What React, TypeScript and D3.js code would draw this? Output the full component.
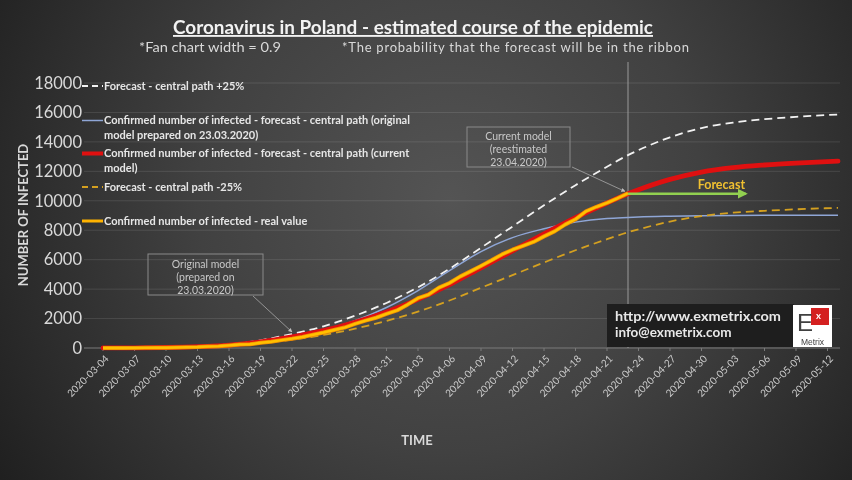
import React from "react";
import * as d3 from "d3";

const W = 852;
const H = 480;

// Real confirmed cases (daily, starting 2020-03-04)
const actualStart = "2020-03-04";
const actualValues = [
  1, 1, 5, 6, 11, 17, 22, 31, 51, 68, 104, 125, 177, 238, 251, 355, 425, 536, 634, 749,
  901, 1051, 1221, 1389, 1638, 1862, 2055, 2311, 2554, 2946, 3383, 3627, 4102, 4413, 4848,
  5205, 5575, 5955, 6356, 6674, 6934, 7202, 7582, 7918, 8379, 8742, 9287, 9593, 9856,
  10169, 10511,
];

// Model paths
const modelDates = [
  "2020-03-04", "2020-03-07", "2020-03-10", "2020-03-13", "2020-03-16", "2020-03-19",
  "2020-03-22", "2020-03-25", "2020-03-28", "2020-03-31", "2020-04-03", "2020-04-06",
  "2020-04-09", "2020-04-12", "2020-04-15", "2020-04-18", "2020-04-21", "2020-04-23",
  "2020-04-24", "2020-04-27", "2020-04-30", "2020-05-03", "2020-05-06", "2020-05-09",
  "2020-05-13",
];
const modelCurrent = [
  3, 12, 35, 90, 200, 420, 760, 1180, 1750, 2450, 3300, 4300, 5450, 6600, 7750, 8850,
  9850, 10480, 10750, 11450, 11950, 12250, 12430, 12560, 12690,
];
const modelPlus25 = [
  4, 15, 44, 113, 250, 525, 950, 1475, 2190, 3060, 4125, 5375, 6810, 8250, 9690, 11060,
  12310, 13100, 13440, 14310, 14940, 15310, 15540, 15700, 15860,
];
const modelMinus25 = [
  2, 9, 26, 68, 150, 315, 570, 885, 1310, 1840, 2475, 3225, 4090, 4950, 5810, 6640, 7390,
  7860, 8060, 8590, 8960, 9190, 9320, 9420, 9520,
];
const modelOriginal = [
  0, 5, 15, 50, 150, 350, 700, 1200, 1850, 2750, 3900, 5250, 6550, 7500, 8100, 8550, 8800,
  8870, 8900, 8950, 8980, 9000, 9010, 9015, 9020,
];

const yTicks = [0, 2000, 4000, 6000, 8000, 10000, 12000, 14000, 16000, 18000];
const xTickLabels = [
  "2020-03-04", "2020-03-07", "2020-03-10", "2020-03-13", "2020-03-16", "2020-03-19",
  "2020-03-22", "2020-03-25", "2020-03-28", "2020-03-31", "2020-04-03", "2020-04-06",
  "2020-04-09", "2020-04-12", "2020-04-15", "2020-04-18", "2020-04-21", "2020-04-24",
  "2020-04-27", "2020-04-30", "2020-05-03", "2020-05-06", "2020-05-09", "2020-05-12",
];
const domainStart = "2020-03-04";
const domainEnd = "2020-05-13";
const reestimateDate = "2020-04-23";
const forecastArrowEnd = "2020-05-04T12:00";
const forecastLevel = 10480;
const originalModelPoint = { date: "2020-03-22", value: 950 };
const currentModelPoint = { date: "2020-04-23", value: 10500 };

const legendLines = [
  ["Forecast - central path +25%"],
  ["Confirmed number of infected - forecast - central path (original", "model prepared on 23.03.2020)"],
  ["Confirmed number of infected - forecast - central path (current", "model)"],
  ["Forecast - central path  -25%"],
  ["Confirmed number of infected - real value"],
];

const FONT = "Lato, 'Open Sans', sans-serif";

export default function App() {
  const pd = d3.utcParse("%Y-%m-%d");
  const pdt = d3.utcParse("%Y-%m-%dT%H:%M");
  const x = d3.scaleUtc().domain([pd(domainStart)!, pd(domainEnd)!]).range([103, 838]);
  const y = d3.scaleLinear().domain([0, 18000]).range([348, 83]);

  const actualPts = actualValues.map((v, i) => [x(d3.utcDay.offset(pd(actualStart)!, i)), y(v)] as [number, number]);
  const mk = (vals: number[]) => vals.map((v, i) => [x(pd(modelDates[i])!), y(v)] as [number, number]);
  const smooth = d3.line().curve(d3.curveMonotoneX);
  const straight = d3.line();

  const xr = x(pd(reestimateDate)!);
  const fx2 = x(pdt(forecastArrowEnd)!);
  const fy = y(forecastLevel);

  const ox = x(pd(originalModelPoint.date)!);
  const oy = y(originalModelPoint.value);
  const cx = x(pd(currentModelPoint.date)!);
  const cy = y(currentModelPoint.value);

  const legendY = [86, 120.5, 153.5, 187, 221];
  const swatch = [
    { stroke: "#f2f2f2", w: 1.8, dash: "6,4" },
    { stroke: "#8fa6d6", w: 1.5, dash: null },
    { stroke: "#e01010", w: 4, dash: null },
    { stroke: "#d4a020", w: 1.8, dash: "6,4" },
    { stroke: "#ffb300", w: 3, dash: null },
  ];

  return (
    <svg width={W} height={H} style={{ position: "fixed", left: 0, top: 0 }} fontFamily={FONT}>
      <defs>
        <radialGradient id="bg" gradientUnits="userSpaceOnUse" cx={450} cy={200} r={560}>
          <stop offset="0" stopColor="#545454" />
          <stop offset="0.45" stopColor="#414141" />
          <stop offset="1" stopColor="#1c1c1c" />
        </radialGradient>
        <marker id="ah" viewBox="0 0 10 10" refX="9" refY="5" markerWidth="5" markerHeight="5" orient="auto">
          <path d="M0,0 L10,5 L0,10 z" fill="#bfbfbf" />
        </marker>
        <marker id="gh" viewBox="0 0 10 10" refX="8" refY="5" markerWidth="4" markerHeight="4" orient="auto">
          <path d="M0,0 L10,5 L0,10 z" fill="#92d050" />
        </marker>
      </defs>
      <rect x={0} y={0} width={W} height={H} fill="url(#bg)" />

      {/* Title */}
      <text x={413} y={34} textAnchor="middle" fill="#f2f2f2" fontSize={18.5} fontWeight="bold" textDecoration="underline" textLength={480} lengthAdjust="spacingAndGlyphs">
        Coronavirus in Poland - estimated course of the epidemic
      </text>
      <text x={139} y={52} fill="#d9d9d9" fontSize={13} textLength={142} lengthAdjust="spacingAndGlyphs">*Fan chart width = 0.9</text>
      <text x={342} y={52} fill="#d9d9d9" fontSize={13} textLength={347} lengthAdjust="spacing">*The probability that the forecast will be in the ribbon</text>

      {/* Grid */}
      {yTicks.map((t) => (
        <line key={t} x1={84} x2={840} y1={y(t)} y2={y(t)} stroke={t === 0 ? "#7a7a7a" : "rgba(255,255,255,0.11)"} strokeWidth={1} />
      ))}
      {yTicks.map((t) => (
        <text key={"l" + t} x={82} y={y(t)} dy="0.35em" textAnchor="end" fill="#d9d9d9" fontSize={16.5}>
          {t}
        </text>
      ))}
      {xTickLabels.map((d) => {
        const xx = x(pd(d)!);
        return (
          <g key={d}>
            <line x1={xx} x2={xx} y1={348} y2={351} stroke="#7a7a7a" />
            <text transform={`translate(${xx + 4},${357}) rotate(-45)`} textAnchor="end" dy="0.35em" fill="#cccccc" fontSize={10}>
              {d}
            </text>
          </g>
        );
      })}

      {/* Axis titles */}
      <text transform="translate(28,215) rotate(-90)" textAnchor="middle" fill="#d9d9d9" fontSize={13} fontWeight="bold">
        NUMBER OF INFECTED
      </text>
      <text x={417} y={445} textAnchor="middle" fill="#d9d9d9" fontSize={13} fontWeight="bold">TIME</text>

      {/* Reestimation vertical line */}
      <line x1={xr} x2={xr} y1={62} y2={348} stroke="#9a9a9a" strokeWidth={1} />

      {/* Series */}
      <path d={smooth(mk(modelPlus25))!} fill="none" stroke="#f2f2f2" strokeWidth={1.8} strokeDasharray="8,5" />
      <path d={smooth(mk(modelOriginal))!} fill="none" stroke="#8fa6d6" strokeWidth={1.5} />
      <path d={smooth(mk(modelCurrent))!} fill="none" stroke="#e01010" strokeWidth={4.8} strokeLinecap="round" />
      <path d={smooth(mk(modelMinus25))!} fill="none" stroke="#d4a020" strokeWidth={1.8} strokeDasharray="8,5" />
      <path d={straight(actualPts)!} fill="none" stroke="#f08c00" strokeWidth={4} strokeLinejoin="round" />
      <path d={straight(actualPts)!} fill="none" stroke="#ffc000" strokeWidth={2.4} strokeLinejoin="round" />

      {/* Forecast arrow */}
      <line x1={xr} x2={fx2 - 3} y1={fy} y2={fy} stroke="#92d050" strokeWidth={2.5} markerEnd="url(#gh)" />
      <text x={(xr + fx2) / 2 + 33} y={189} textAnchor="middle" fill="#f0c030" fontSize={12.5} fontWeight="bold">
        Forecast
      </text>

      {/* Annotations */}
      <rect x={148} y={254} width={115} height={41} fill="none" stroke="#8a8a8a" strokeWidth={1} />
      <text x={205.5} y={268} textAnchor="middle" fill="#c8c8c8" fontSize={10.5}>Original model</text>
      <text x={205.5} y={281} textAnchor="middle" fill="#c8c8c8" fontSize={10.5}>(prepared on</text>
      <text x={205.5} y={294} textAnchor="middle" fill="#c8c8c8" fontSize={10.5}>23.03.2020)</text>
      <line x1={253} y1={296} x2={ox} y2={oy - 2} stroke="#a8a8a8" strokeWidth={0.8} markerEnd="url(#ah)" />

      <rect x={467} y={127} width={103} height={40} fill="none" stroke="#8a8a8a" strokeWidth={1} />
      <text x={518.5} y={140} textAnchor="middle" fill="#c8c8c8" fontSize={10.5}>Current model</text>
      <text x={518.5} y={153} textAnchor="middle" fill="#c8c8c8" fontSize={10.5}>(reestimated</text>
      <text x={518.5} y={166} textAnchor="middle" fill="#c8c8c8" fontSize={10.5}>23.04.2020)</text>
      <line x1={572} y1={167} x2={cx - 3} y2={cy - 2} stroke="#a8a8a8" strokeWidth={0.8} markerEnd="url(#ah)" />

      {/* Legend */}
      {legendLines.map((lines, i) => {
        const s = swatch[i];
        return (
          <g key={i}>
            <line x1={82} x2={103} y1={legendY[i]} y2={legendY[i]} stroke={s.stroke} strokeWidth={s.w} strokeDasharray={s.dash || undefined} />
            {lines.map((ln, j) => (
              <text key={j} x={104} y={legendY[i] + j * 14.5} dy="0.35em" fill="#e6e6e6" fontSize={11} fontWeight="bold">
                {ln}
              </text>
            ))}
          </g>
        );
      })}

      {/* Exmetrix box */}
      <rect x={607} y={304} width={187} height={43} fill="#1e1e1e" />
      <text x={615} y={321} fill="#e8e8e8" fontSize={13.5} fontWeight="bold" textLength={166} lengthAdjust="spacingAndGlyphs">http://www.exmetrix.com</text>
      <text x={615} y={337} fill="#e8e8e8" fontSize={13.5} fontWeight="bold">info@exmetrix.com</text>
      <rect x={793} y={305} width={39} height={42} fill="#ffffff" />
      <rect x={811} y={308} width={18} height={17} fill="#d42020" />
      <text x={816} y={319} fill="#ffffff" fontSize={9.5} fontWeight="bold">x</text>
      <text x={797} y={331} fill="#404040" fontSize={24} fontFamily="'Liberation Sans', Arial, sans-serif">E</text>
      <text x={812.5} y={345} textAnchor="middle" fill="#404040" fontSize={8.5} fontFamily="'Liberation Sans', Arial, sans-serif">Metrix</text>
    </svg>
  );
}
